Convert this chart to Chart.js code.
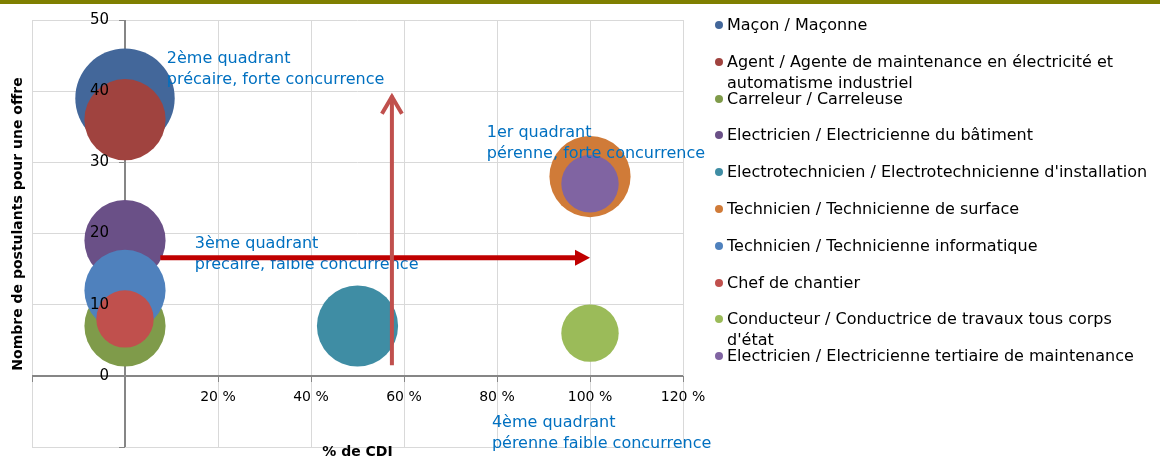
<!DOCTYPE html>
<html>
<head>
<meta charset="utf-8">
<script src="https://cdn.jsdelivr.net/npm/chart.js@4.4.1/dist/chart.umd.min.js"></script>
<style>
  body { margin: 0; background: #fff; }
  #wrap { position: relative; width: 1160px; height: 457px; overflow: hidden; }
  #topbar { position: absolute; left: 0; top: 0; width: 1160px; height: 4px; background: #7f7f00; }
  #chart { position: absolute; left: 0; top: 0; }
  #legend { position: absolute; left: 715px; top: 14px; width: 445px; font-family: 'DejaVu Sans', sans-serif; font-size: 16px; color: #000; }
  #legend .item { position: relative; height: 36.8px; padding-left: 12px; }
  #legend .dot { position: absolute; left: 0; top: 7px; width: 8px; height: 8px; border-radius: 50%; }
  #legend .txt { line-height: 21px; width: 433px; }
</style>
</head>
<body>
<div id="wrap">
  <canvas id="chart" width="1160" height="457"></canvas>
  <div id="topbar"></div>
  <div id="legend"></div>
</div>
<script>
var metiers = [
    "Maçon / Maçonne",
    "Agent / Agente de maintenance en électricité et automatisme industriel",
    "Carreleur / Carreleuse",
    "Electricien / Electricienne du bâtiment",
    "Electrotechnicien / Electrotechnicienne d'installation",
    "Technicien / Technicienne de surface",
    "Technicien / Technicienne informatique",
    "Chef de chantier",
    "Conducteur / Conductrice de travaux tous corps d'état",
    "Electricien / Electricienne tertiaire de maintenance"
];
// % de CDI
var partCDI = [0, 0, 0, 0, 50, 100, 0, 0, 100, 100];
// nombre de postulants pour une offre
var postulants = [39, 36, 7, 19, 7, 28, 12, 8, 6, 27];
// taille des bulles (nombre d'offres)
var offres = [3, 2, 2, 2, 2, 2, 2, 1, 1, 1];
var couleurs = ["#43679a", "#a0433f", "#7f9b4a", "#6a5087", "#3f8da4",
                "#d07b38", "#4f81bd", "#c0504d", "#9bbb59", "#8064a2"];

// graduations affichees
var xTicks = [20, 40, 60, 80, 100, 120];
var yTicks = [0, 10, 20, 30, 40, 50];

var quadrants = [
    { lignes: ["2ème quadrant", "précaire, forte concurrence"], x: 9, y: 44.5 },
    { lignes: ["1er quadrant", "pérenne, forte concurrence"], x: 77.8, y: 34.1 },
    { lignes: ["3ème quadrant", "précaire, faible concurrence"], x: 15, y: 18.5 },
    { lignes: ["4ème quadrant", "pérenne faible concurrence"], x: 78.9, y: -6.6 }
];
// fleches : axe CDI (horizontal) et axe concurrence (vertical)
var flecheH = { x1: 7.6, x2: 100, y: 16.6 };
var flecheV = { x: 57.4, y1: 1.5, y2: 39.5 };

var RAYON_BASE = 28.7;
var police = "'DejaVu Sans', sans-serif";
Chart.defaults.font.family = police;

var datasets = metiers.map(function (nom, i) {
    return {
        label: nom,
        data: [{ x: partCDI[i], y: postulants[i], r: RAYON_BASE * Math.sqrt(offres[i]) }],
        backgroundColor: couleurs[i],
        hoverBackgroundColor: couleurs[i],
        borderWidth: 0,
        hoverBorderWidth: 0,
        order: metiers.length - i
    };
});

// axes qui se croisent en (0, 0), comme dans Excel
var axesCroises = {
    id: "axesCroises",
    beforeDatasetsDraw: function (chart) {
        var ctx = chart.ctx, a = chart.chartArea;
        var sx = chart.scales.x, sy = chart.scales.y;
        var x0 = Math.round(sx.getPixelForValue(0)), y0 = Math.round(sy.getPixelForValue(0));
        ctx.save();
        ctx.strokeStyle = "#868686";
        ctx.lineWidth = 2;
        ctx.beginPath();
        ctx.moveTo(a.left, y0);
        ctx.lineTo(a.right, y0);
        ctx.moveTo(x0, a.top);
        ctx.lineTo(x0, a.bottom);
        ctx.stroke();
        ctx.lineWidth = 1;
        ctx.beginPath();
        sx.ticks.forEach(function (t) {
            var px = Math.round(sx.getPixelForValue(t.value)) + 0.5;
            ctx.moveTo(px, y0);
            ctx.lineTo(px, y0 + 6);
        });
        sy.ticks.forEach(function (t) {
            var py = Math.round(sy.getPixelForValue(t.value)) + 0.5;
            ctx.moveTo(x0, py);
            ctx.lineTo(x0 - 6, py);
        });
        ctx.stroke();
        ctx.restore();
    },
    afterDatasetsDraw: function (chart) {
        var ctx = chart.ctx;
        var sx = chart.scales.x, sy = chart.scales.y;
        var x0 = sx.getPixelForValue(0), y0 = sy.getPixelForValue(0);
        ctx.save();
        ctx.fillStyle = "#000";
        ctx.textBaseline = "middle";
        ctx.font = "14px " + police;
        ctx.textAlign = "center";
        xTicks.forEach(function (v) {
            ctx.fillText(v + " %", sx.getPixelForValue(v), y0 + 22);
        });
        ctx.font = "15px " + police;
        ctx.textAlign = "right";
        yTicks.forEach(function (v) {
            ctx.fillText(String(v), x0 - 16, sy.getPixelForValue(v));
        });
        ctx.restore();
    }
};

var annotations = {
    id: "annotations",
    afterDatasetsDraw: function (chart) {
        var ctx = chart.ctx;
        var sx = chart.scales.x, sy = chart.scales.y;
        var area = chart.chartArea;
        ctx.save();

        // textes des quadrants
        ctx.fillStyle = "#0070c0";
        ctx.font = "16px " + police;
        ctx.textBaseline = "middle";
        ctx.textAlign = "left";
        quadrants.forEach(function (q) {
            var px = sx.getPixelForValue(q.x), py = sy.getPixelForValue(q.y);
            q.lignes.forEach(function (l, k) {
                ctx.fillText(l, px, py + k * 21);
            });
        });

        // fleche horizontale
        var hx1 = sx.getPixelForValue(flecheH.x1), hx2 = sx.getPixelForValue(flecheH.x2);
        var hy = sy.getPixelForValue(flecheH.y);
        ctx.strokeStyle = "#c00000";
        ctx.fillStyle = "#c00000";
        ctx.lineWidth = 5;
        ctx.beginPath();
        ctx.moveTo(hx1, hy);
        ctx.lineTo(hx2 - 14, hy);
        ctx.stroke();
        ctx.beginPath();
        ctx.moveTo(hx2, hy);
        ctx.lineTo(hx2 - 15, hy - 8);
        ctx.lineTo(hx2 - 15, hy + 8);
        ctx.closePath();
        ctx.fill();

        // fleche verticale
        var vx = sx.getPixelForValue(flecheV.x);
        var vy1 = sy.getPixelForValue(flecheV.y1), vy2 = sy.getPixelForValue(flecheV.y2);
        ctx.strokeStyle = "#c0504d";
        ctx.lineWidth = 4;
        ctx.beginPath();
        ctx.moveTo(vx, vy1);
        ctx.lineTo(vx, vy2 + 1);
        ctx.stroke();
        ctx.beginPath();
        ctx.moveTo(vx - 10, vy2 + 19);
        ctx.lineTo(vx, vy2 + 2);
        ctx.lineTo(vx + 10, vy2 + 19);
        ctx.stroke();

        // titres des axes
        ctx.fillStyle = "#000";
        ctx.font = "bold 14px " + police;
        ctx.textAlign = "center";
        ctx.textBaseline = "top";
        ctx.fillText("% de CDI", (area.left + area.right) / 2, 445);
        ctx.translate(18, 224);
        ctx.rotate(-Math.PI / 2);
        ctx.textBaseline = "middle";
        ctx.fillText("Nombre de postulants pour une offre", 0, 0);
        ctx.restore();
    }
};

var chart = new Chart(document.getElementById("chart"), {
    type: "bubble",
    data: { datasets: datasets },
    options: {
        responsive: false,
        animation: false,
        events: [],
        layout: { autoPadding: false, padding: { left: 32, top: 20, right: 477, bottom: 10 } },
        plugins: {
            legend: { display: false },
            tooltip: { enabled: false }
        },
        scales: {
            x: {
                type: "linear",
                min: -20,
                max: 120,
                position: "bottom",
                ticks: { display: false, stepSize: 20 },
                grid: { color: "#d9d9d9", drawTicks: false },
                border: { display: false }
            },
            y: {
                type: "linear",
                min: -10,
                max: 50,
                position: "left",
                ticks: { display: false, stepSize: 10 },
                grid: { color: "#d9d9d9", drawTicks: false },
                border: { display: false }
            }
        }
    },
    plugins: [axesCroises, annotations]
});

// legende
var legende = document.getElementById("legend");
chart.data.datasets.forEach(function (ds) {
    var item = document.createElement("div");
    item.className = "item";
    var dot = document.createElement("span");
    dot.className = "dot";
    dot.style.background = ds.backgroundColor;
    var txt = document.createElement("div");
    txt.className = "txt";
    txt.textContent = ds.label;
    item.appendChild(dot);
    item.appendChild(txt);
    legende.appendChild(item);
});
</script>
</body>
</html>
